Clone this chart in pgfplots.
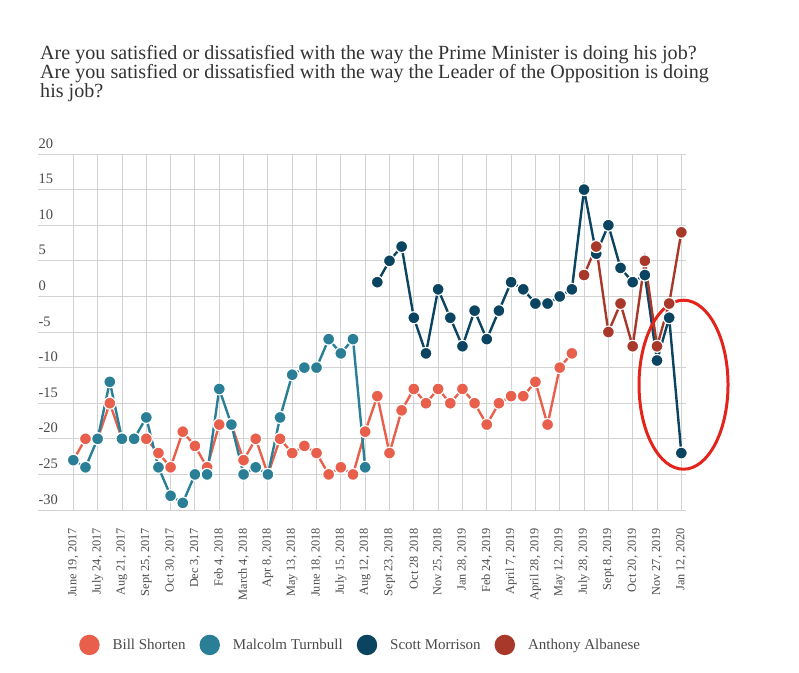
\documentclass[border=0pt]{standalone}
\usepackage{pgfplots}
\pgfplotsset{compat=1.18}
\usepackage{fontspec}
\setmainfont{Liberation Serif}
\definecolor{shorten}{HTML}{E8604C}
\definecolor{turnbull}{HTML}{2A7F96}
\definecolor{morrison}{HTML}{0B4461}
\definecolor{albanese}{HTML}{A8382A}
\definecolor{gridc}{HTML}{D2D2D2}
\definecolor{txt}{HTML}{333333}
\definecolor{lbl}{HTML}{4A4A4A}
\definecolor{annot}{HTML}{E3241B}
\begin{document}
\begin{tikzpicture}[x=1pt,y=1pt]
\path[use as bounding box] (0,0) rectangle (799,-672);
\node[anchor=base west, text=txt, inner sep=0pt, font=\fontsize{20.1}{22}\selectfont] at (40,-59) {Are you satisfied or dissatisfied with the way the Prime Minister is doing his job?};
\node[anchor=base west, text=txt, inner sep=0pt, font=\fontsize{20.1}{22}\selectfont] at (40,-78.3) {Are you satisfied or dissatisfied with the way the Leader of the Opposition is doing};
\node[anchor=base west, text=txt, inner sep=0pt, font=\fontsize{20.1}{22}\selectfont] at (40,-97.6) {his job?};
\begin{axis}[
  at={(38.3pt,-510pt)}, anchor=south west,
  scale only axis, width=647.4pt, height=356pt,
  xmin=-2.88, xmax=50.36, ymin=-30, ymax=20,
  clip=false,
  axis line style={draw=none},
  tick style={draw=none},
  grid=major, grid style={gridc, line width=0.9pt},
  xtick={0,2,...,50},
  xticklabels={{June 19, 2017}, {July 24, 2017}, {Aug 21, 2017}, {Sept 25, 2017}, {Oct 30, 2017}, {Dec 3, 2017}, {Feb 4, 2018}, {March 4, 2018}, {Apr 8, 2018}, {May 13, 2018}, {June 18, 2018}, {July 15, 2018}, {Aug 12, 2018}, {Sept 23, 2018}, {Oct 28 2018}, {Nov 25, 2018}, {Jan 28, 2019}, {Feb 24, 2019}, {April 7, 2019}, {April 28, 2019}, {May 12, 2019}, {July 28, 2019}, {Sept 8, 2019}, {Oct 20, 2019}, {Nov 27, 2019}, {Jan 12, 2020}},
  xticklabel style={rotate=90, anchor=east, inner sep=0pt, text=lbl, font=\fontsize{12.3}{14}\selectfont},
  xticklabel shift=18pt,
  ytick={-30,-25,...,20},
  yticklabels={-30,-25,-20,-15,-10,-5,0,5,10,15,20},
  yticklabel style={anchor=south west, inner sep=0pt, yshift=5.5pt, xshift=0pt, text=lbl, font=\fontsize{14.5}{16}\selectfont},
  yticklabel shift=0pt,
  every axis plot/.append style={line width=2.4pt, mark=*, mark size=6pt},
  legend columns=4,
  legend style={at={(rel axis cs:0.0629,-0.379)}, anchor=west, draw=none, fill=none, inner sep=0pt, nodes={inner sep=0pt, text=lbl, font=\fontsize{15}{17}\selectfont},
    /tikz/every odd column/.append style={column sep=13pt},
    /tikz/every even column/.append style={column sep=14pt}},
  legend image code/.code={\fill[#1] (9pt,0pt) circle (9pt);},
]
\addplot[color=shorten, mark options={draw=white, line width=1.2pt, fill=shorten}] coordinates {
(0,-23)(1,-20)(2,-20)(3,-15)(4,-20)(5,-20)(6,-20)(7,-22)(8,-24)(9,-19)(10,-21)(11,-24)(12,-18)(13,-18)(14,-23)(15,-20)(16,-25)(17,-20)(18,-22)(19,-21)(20,-22)(21,-25)(22,-24)(23,-25)(24,-19)(25,-14)(26,-22)(27,-16)(28,-13)(29,-15)(30,-13)(31,-15)(32,-13)(33,-15)(34,-18)(35,-15)(36,-14)(37,-14)(38,-12)(39,-18)(40,-10)(41,-8)};
\addlegendentry{Bill Shorten}
\addplot[color=turnbull, mark options={draw=white, line width=1.2pt, fill=turnbull}] coordinates {
(0,-23)(1,-24)(2,-20)(3,-12)(4,-20)(5,-20)(6,-17)(7,-24)(8,-28)(9,-29)(10,-25)(11,-25)(12,-13)(13,-18)(14,-25)(15,-24)(16,-25)(17,-17)(18,-11)(19,-10)(20,-10)(21,-6)(22,-8)(23,-6)(24,-24)};
\addlegendentry{Malcolm Turnbull}
\addplot[color=morrison, mark options={draw=white, line width=1.2pt, fill=morrison}] coordinates {
(25,2)(26,5)(27,7)(28,-3)(29,-8)(30,1)(31,-3)(32,-7)(33,-2)(34,-6)(35,-2)(36,2)(37,1)(38,-1)(39,-1)(40,0)(41,1)(42,15)(43,6)(44,10)(45,4)(46,2)(47,3)(48,-9)(49,-3)(50,-22)};
\addlegendentry{Scott Morrison}
\addplot[color=albanese, mark options={draw=white, line width=1.2pt, fill=albanese}] coordinates {
(42,3)(43,7)(44,-5)(45,-1)(46,-7)(47,5)(48,-7)(49,-1)(50,9)};
\addlegendentry{Anthony Albanese}
\draw[annot, line width=3pt] (axis cs:50.18,-12.4) ellipse [x radius=44.5pt, y radius=84.5pt];
\end{axis}
\end{tikzpicture}
\end{document}
